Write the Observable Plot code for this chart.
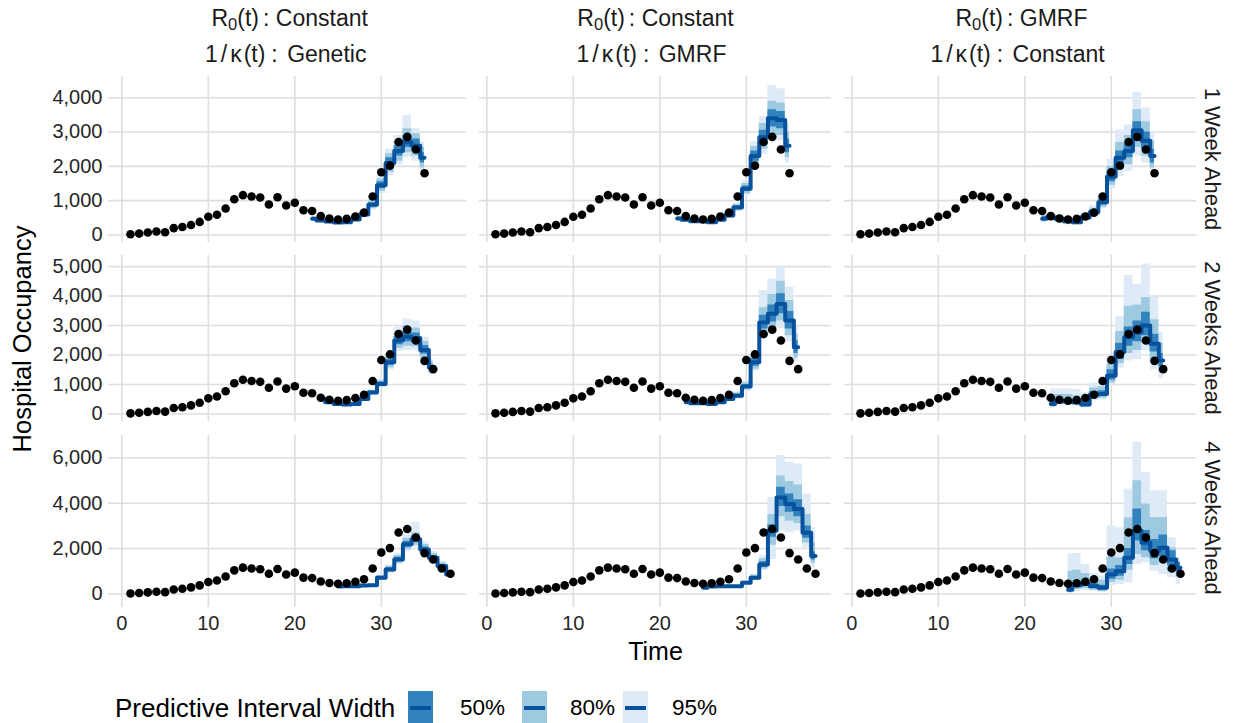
<!DOCTYPE html>
<html><head><meta charset="utf-8">
<script src="https://cdn.jsdelivr.net/npm/d3@7"></script>
<script src="https://cdn.jsdelivr.net/npm/@observablehq/plot@0.6"></script>
<style>
body{margin:0;background:#fff;}
#root{position:relative;width:1235px;height:723px;font-family:"Liberation Sans",Arial,Helvetica,sans-serif;color:#1A1A1A;overflow:hidden;background:#fff}
.abs{position:absolute;white-space:nowrap;line-height:1}
.c{transform:translate(-50%,-50%)}
sub{font-size:0.72em;vertical-align:-0.28em;line-height:0}
</style></head><body><div id="root"></div>
<script>
// ---------------- data ----------------
const obsTime = [1,2,3,4,5,6,7,8,9,10,11,12,13,14,15,16,17,18,19,20,21,22,23,24,25,26,27,28,29,30,31,32,33,34,35,36,37,38];
const obsValue = [20,40,70,100,80,200,230,290,380,530,590,770,1040,1160,1120,1090,890,1100,860,940,720,700,550,480,450,470,540,650,1120,1830,2020,2710,2860,2490,1800,1520,1120,890];

const models = ["constGenetic","constGMRF","gmrfConst"];
const modelR0 = ["Constant","Constant","GMRF"];
const modelKappa = ["Genetic","GMRF","Constant"];
const horizons = ["1 Week Ahead","2 Weeks Ahead","4 Weeks Ahead"];
const obsEnd = [35,36,38];

const fcTime1 = [22,23,24,25,26,27,28,29,30,31,32,33,34,35];
const fcTime2 = [23,24,25,26,27,28,29,30,31,32,33,34,35,36];
const fcTime4 = [25,26,27,28,29,30,31,32,33,34,35,36,37,38];

// each panel: [median, lo50, hi50, lo80, hi80, lo95, hi95]
const fc1_genetic = [
  [470,420,390,360,370,450,600,880,1450,2100,2450,2700,2600,2250],
  [440,395,365,335,345,420,560,820,1350,1950,2300,2550,2450,2100],
  [500,445,415,385,395,480,640,940,1550,2250,2600,2900,2800,2400],
  [420,375,345,320,330,400,530,770,1270,1830,2150,2400,2300,1950],
  [520,465,435,400,410,500,670,990,1640,2370,2750,3100,2950,2550],
  [400,360,330,305,315,380,500,730,1200,1730,2050,2250,2150,1850],
  [540,480,450,415,425,520,700,1040,1730,2500,2900,3480,3100,2700]
];
const fc1_gmrf = [
  [480,440,400,400,370,440,570,800,1350,2300,2850,3400,3350,2600],
  [450,415,375,375,345,410,530,750,1270,2150,2650,3150,3100,2400],
  [510,465,425,425,395,470,610,850,1430,2450,3050,3650,3600,2800],
  [430,395,355,355,330,390,500,710,1200,2030,2500,2950,2900,2250],
  [530,485,445,445,410,490,640,890,1500,2580,3250,3900,3850,3000],
  [410,380,340,340,315,370,480,680,1150,1930,2350,2800,2750,2100],
  [550,500,460,460,425,510,670,930,1580,2720,3450,4360,4260,3250]
];
const fc1_r0gmrf = [
  [470,510,470,400,370,510,660,950,1700,2250,2450,3050,2750,2300],
  [420,460,420,360,330,460,600,870,1550,2050,2250,2800,2500,2100],
  [520,560,520,440,410,560,720,1030,1850,2450,2650,3300,3000,2500],
  [390,430,390,330,305,430,560,810,1450,1900,2050,2550,2300,1950],
  [560,600,560,480,440,600,780,1100,2000,2700,2900,3650,3300,2750],
  [360,400,360,300,280,400,520,760,1350,1700,1850,2300,2100,1800],
  [600,650,600,520,470,650,850,1200,2200,3050,3200,4150,3700,3000]
];
const fc2_genetic = [
  [510,400,340,320,340,510,730,1020,1750,2490,2620,2580,2170,1580],
  [480,375,315,295,315,480,690,960,1650,2350,2450,2420,2030,1480],
  [540,425,365,345,365,540,770,1080,1850,2630,2800,2750,2320,1690],
  [460,360,300,280,300,460,660,920,1570,2230,2300,2280,1920,1400],
  [560,440,380,360,380,560,800,1130,1950,2770,2980,2920,2460,1790],
  [440,345,285,265,285,440,640,890,1500,2130,2150,2150,1820,1330],
  [580,460,400,380,400,590,840,1190,2050,2950,3220,3150,2600,1880]
];
const fc2_gmrf = [
  [400,360,360,340,400,510,620,930,1750,3100,3400,3730,3170,2260],
  [375,335,335,315,370,470,570,860,1620,2880,3120,3400,2880,2050],
  [425,385,385,365,430,550,670,1000,1880,3350,3700,4080,3480,2480],
  [355,320,320,300,350,440,540,810,1520,2700,2900,3150,2650,1900],
  [445,400,400,380,450,580,710,1060,2000,3600,4050,4500,3850,2700],
  [340,305,305,290,335,420,510,770,1450,2550,2700,2900,2450,1750],
  [460,420,420,400,470,610,750,1120,2150,4190,4580,5030,4300,2950]
];
const fc2_r0gmrf = [
  [340,430,430,400,320,650,680,1300,2100,2600,2770,3000,2380,1810],
  [280,370,370,340,270,560,590,1150,1850,2300,2450,2650,2100,1600],
  [410,500,500,470,380,760,790,1500,2400,2950,3150,3450,2700,2050],
  [240,330,330,300,230,500,530,1050,1700,2050,2150,2400,1800,1400],
  [600,660,660,620,540,880,920,1700,2800,3650,3700,3950,3200,2400],
  [200,290,290,260,200,440,470,950,1550,1800,1850,2150,1500,1200],
  [850,850,850,830,720,1050,1100,1950,3300,4700,4400,5090,3960,2770]
];
const fc4_genetic = [
  [330,340,340,370,380,710,1080,1520,2190,2410,1960,1600,1230,860],
  [310,320,320,345,355,650,1000,1420,2060,2270,1850,1510,1160,810],
  [350,360,360,395,405,770,1160,1620,2320,2550,2070,1690,1300,910],
  [295,305,305,330,340,610,950,1350,1950,2150,1760,1440,1100,770],
  [365,375,375,410,420,810,1220,1700,2450,2700,2180,1780,1370,960],
  [285,295,295,320,330,580,900,1290,1870,2050,1690,1380,1060,740],
  [380,390,390,425,440,850,1280,1790,2600,3150,2300,1880,1440,1010]
];
const fc4_gmrf = [
  [270,330,340,340,340,490,710,1300,2780,4250,3960,3740,2700,1670],
  [250,310,320,320,320,450,650,1180,2500,3850,3600,3400,2450,1500],
  [290,350,360,360,360,530,770,1420,3050,4700,4400,4150,3000,1850],
  [235,295,305,305,305,420,610,1100,2150,3400,3200,3100,2250,1350],
  [305,365,375,375,375,560,820,1550,3500,5200,4950,4800,3500,2250],
  [225,285,295,295,295,400,580,1030,1520,2780,2700,2780,2040,1150],
  [320,380,390,390,390,590,870,1700,4250,6100,5800,5730,4400,2930]
];
const fc4_r0gmrf = [
  [190,380,440,340,270,860,1000,1600,2780,2260,1890,2040,1520,1150],
  [100,280,330,250,180,650,780,1300,2330,1900,1550,1650,1250,950],
  [300,500,560,450,380,1100,1250,2000,3740,2800,2400,2600,1900,1400],
  [60,200,240,180,110,500,600,1050,1740,1600,1250,1350,1000,750],
  [1000,1050,900,700,600,1620,1600,3350,4990,3960,3370,3370,2030,1300],
  [0,100,150,120,60,350,420,490,1300,1380,1000,860,710,420],
  [1750,1780,1300,900,800,3000,2920,4620,6690,5360,4550,4550,2480,1600]
];

const xTicks = [0,10,20,30];
const yTicks1 = [0,1000,2000,3000,4000];
const yTicks2 = [0,1000,2000,3000,4000,5000];
const yTicks4 = [0,2000,4000,6000];
const levels = ["50%","80%","95%"];
const levelColors = ["#3182BD","#9ECAE1","#DEEBF7"];
const medianColor = "#08519C";

// ---------------- layout ----------------
const FONT = '"Liberation Sans", Arial, Helvetica, sans-serif';
const GRID = "#DEDEDE";
const TICKTXT = "#262626";
const rows = [
  {panels:[fc1_genetic,fc1_gmrf,fc1_r0gmrf], times:fcTime1, ticks:yTicks1, domain:[-220,4620], top:0,   height:248, mt:76, mb:6},
  {panels:[fc2_genetic,fc2_gmrf,fc2_r0gmrf], times:fcTime2, ticks:yTicks2, domain:[-256,5376], top:248, height:179, mt:7,  mb:6},
  {panels:[fc4_genetic,fc4_gmrf,fc4_r0gmrf], times:fcTime4, ticks:yTicks4, domain:[-332,6982], top:427, height:296, mt:8,  mb:122}
];
const root = document.getElementById("root");

rows.forEach((row, r) => {
  const table = [];
  row.panels.forEach((p, m) => row.times.forEach((t, i) => table.push({
    model: models[m], t, med: p[0][i], lo50: p[1][i], hi50: p[2][i], lo80: p[3][i], hi80: p[4][i], lo95: p[5][i], hi95: p[6][i]
  })));
  const obs = obsTime.map((t, i) => ({t, v: obsValue[i]})).filter(d => d.t <= obsEnd[r]);
  const marks = [
    Plot.gridX(xTicks, {stroke: GRID, strokeOpacity: 1, strokeWidth: 1.6}),
    Plot.gridY(row.ticks, {stroke: GRID, strokeOpacity: 1, strokeWidth: 1.6}),
    Plot.axisY(row.ticks, {tickFormat: d3.format(","), tickSize: 6, tickPadding: 6, stroke: GRID, strokeWidth: 1.6, strokeOpacity: 1, fill: TICKTXT, fontSize: 20, label: null}),
    Plot.areaY(table, {fx: "model", x: "t", y1: "lo95", y2: "hi95", curve: "step", fill: levelColors[2]}),
    Plot.areaY(table, {fx: "model", x: "t", y1: "lo80", y2: "hi80", curve: "step", fill: levelColors[1]}),
    Plot.areaY(table, {fx: "model", x: "t", y1: "lo50", y2: "hi50", curve: "step", fill: levelColors[0]}),
    Plot.lineY(table, {fx: "model", x: "t", y: "med", curve: "step", stroke: medianColor, strokeWidth: 4}),
    Plot.dot(obs, {x: "t", y: "v", r: 4.3, fill: "#000", stroke: "none"})
  ];
  if (r === 2) marks.splice(3, 0, Plot.axisX(xTicks, {tickSize: 6, tickPadding: 8, stroke: GRID, strokeWidth: 1.6, strokeOpacity: 1, fill: TICKTXT, fontSize: 20, label: null}));
  const svg = Plot.plot({
    width: 1235, height: row.height,
    marginLeft: 113, marginRight: 37, marginTop: row.mt, marginBottom: row.mb,
    style: {fontFamily: FONT, fontSize: "20px", background: "transparent", overflow: "visible"},
    fx: {domain: models, paddingInner: 0.0355, paddingOuter: 0, axis: null, label: null},
    x: {domain: [-0.85, 39.85], axis: null, label: null},
    y: {domain: row.domain, axis: null, label: null},
    marks
  });
  svg.style.position = "absolute";
  svg.style.left = "0px";
  svg.style.top = row.top + "px";
  root.appendChild(svg);
});

// strip labels (top)
const colCenters = [289.7, 655.5, 1021.5];
models.forEach((m, i) => {
  const a = document.createElement("div");
  a.className = "abs c"; a.style.left = colCenters[i] + "px"; a.style.top = "18px"; a.style.fontSize = "23px";
  a.innerHTML = `R<sub>0</sub>(t)<span style="margin-left:4px">:</span> ${modelR0[i]}`;
  root.appendChild(a);
  const b = document.createElement("div");
  b.className = "abs c"; b.style.left = (colCenters[i] - 4) + "px"; b.style.top = "54px"; b.style.fontSize = "23px";
  b.innerHTML = `1<span style="margin:0 3px">/</span><span style="margin-right:2px">κ</span>(t)<span style="margin-left:6px;margin-right:3px">:</span> ${modelKappa[i]}`;
  root.appendChild(b);
});
// strip labels (right)
const rowCenters = [159, 338, 518];
horizons.forEach((h, i) => {
  const d = document.createElement("div");
  d.className = "abs"; d.style.left = "1212px"; d.style.top = rowCenters[i] + "px"; d.style.fontSize = "22px";
  d.style.transform = "translate(-50%,-50%) rotate(90deg)";
  d.textContent = h;
  root.appendChild(d);
});
// axis titles
const yt = document.createElement("div");
yt.className = "abs"; yt.style.left = "23px"; yt.style.top = "339px"; yt.style.fontSize = "25.5px"; yt.style.color = "#000";
yt.style.transform = "translate(-50%,-50%) rotate(-90deg)"; yt.textContent = "Hospital Occupancy";
root.appendChild(yt);
const xt = document.createElement("div");
xt.className = "abs c"; xt.style.left = "655.5px"; xt.style.top = "651px"; xt.style.fontSize = "25px"; xt.style.color = "#000";
xt.textContent = "Time"; root.appendChild(xt);

// legend
const legTitle = document.createElement("div");
legTitle.className = "abs"; legTitle.style.left = "115px"; legTitle.style.top = "708px";
legTitle.style.transform = "translateY(-50%)"; legTitle.style.fontSize = "26px"; legTitle.style.color = "#000";
legTitle.textContent = "Predictive Interval Width";
root.appendChild(legTitle);
const keyLeft = [408, 522, 623];
const labLeft = [460, 570, 672];
levels.forEach((l, i) => {
  const k = document.createElement("div");
  k.className = "abs"; k.style.left = keyLeft[i] + "px"; k.style.top = "691px";
  k.style.width = "25px"; k.style.height = "33px"; k.style.background = levelColors[i];
  k.innerHTML = `<div style="position:absolute;left:2px;right:2px;top:14.5px;height:4px;background:${medianColor}"></div>`;
  root.appendChild(k);
  const t = document.createElement("div");
  t.className = "abs"; t.style.left = labLeft[i] + "px"; t.style.top = "708px";
  t.style.transform = "translateY(-50%)"; t.style.fontSize = "22.5px"; t.style.color = "#000";
  t.textContent = l;
  root.appendChild(t);
});
</script></body></html>
